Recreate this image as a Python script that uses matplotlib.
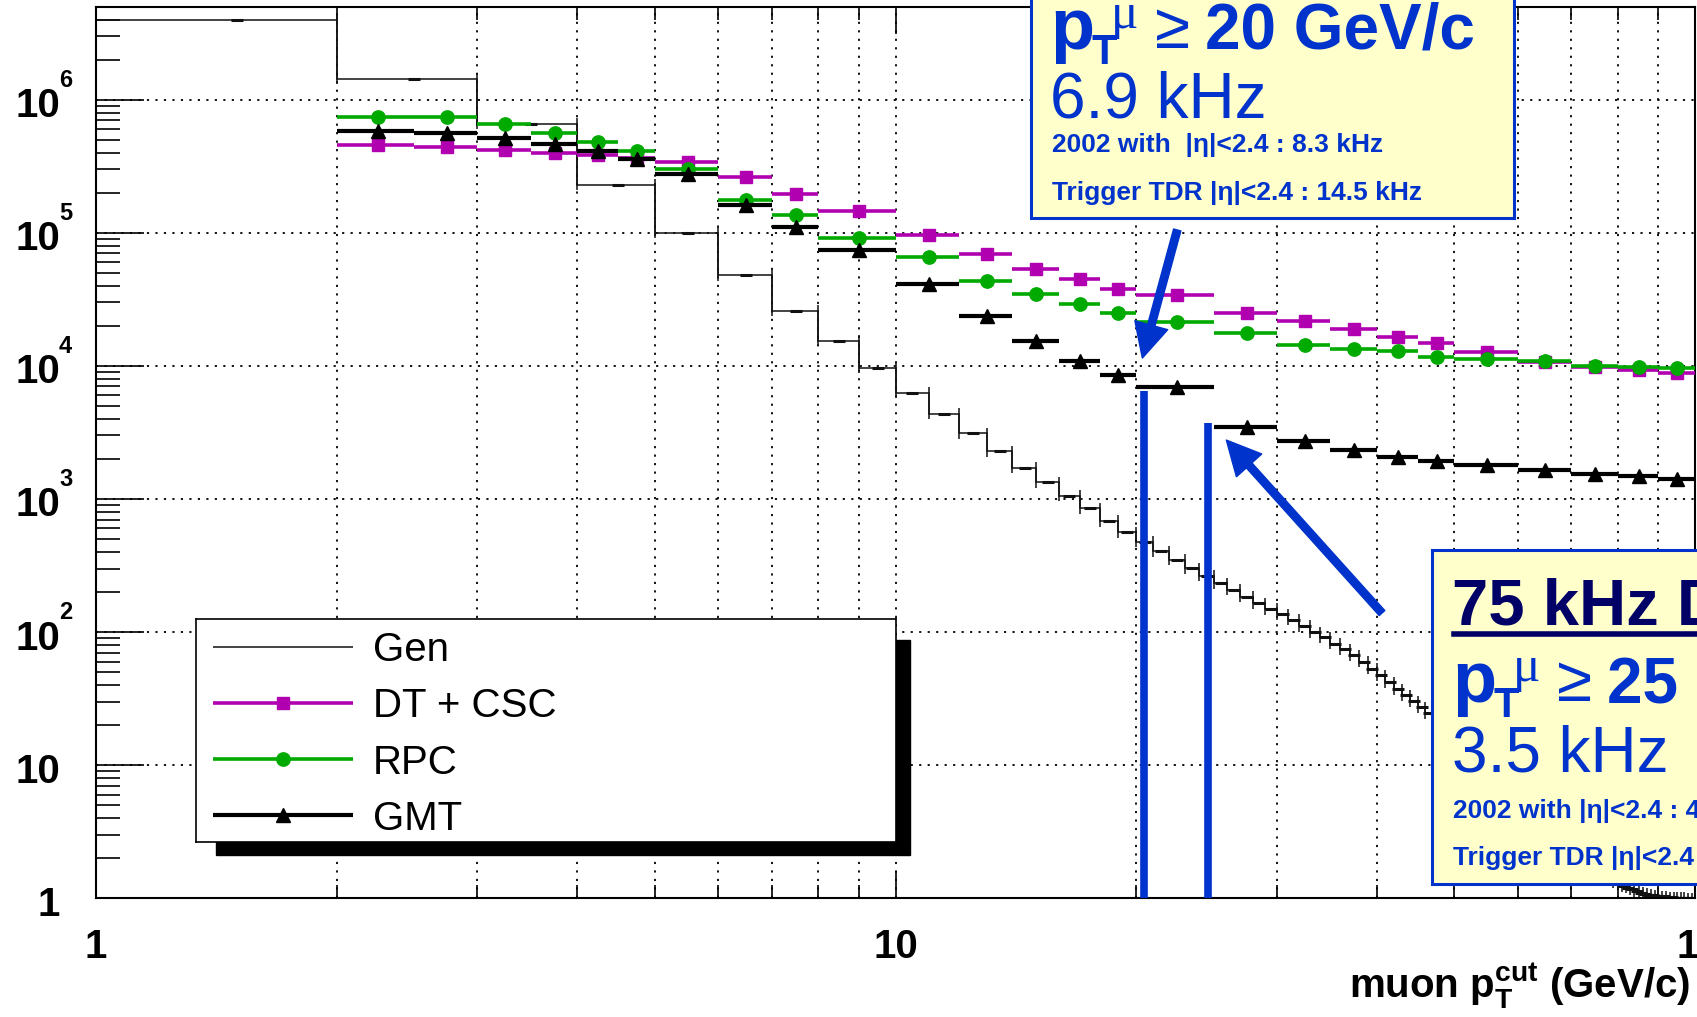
import numpy as np
import matplotlib
matplotlib.use("Agg")
import matplotlib.pyplot as plt
from matplotlib import transforms as mtrans
from matplotlib.patches import Rectangle
from matplotlib.lines import Line2D
from matplotlib.ticker import FixedLocator, LogLocator, NullFormatter

W, H, DPI = 1697, 1017, 100

plt.rcParams["font.family"] = ["Liberation Sans", "DejaVu Sans"]
plt.rcParams["mathtext.fontset"] = "custom"
plt.rcParams["mathtext.rm"] = "Liberation Sans"
plt.rcParams["mathtext.bf"] = "Liberation Sans:bold"
plt.rcParams["mathtext.it"] = "Liberation Sans:italic"
plt.rcParams["mathtext.sf"] = "Liberation Sans"

# ---------------- data ----------------
# generator-level rate above threshold, 1 GeV/c bins from 1 to 100 GeV/c
gen_edges = np.arange(1, 101)
gen_rate = [
    4.0e6, 1.44e6, 6.6e5, 2.3e5, 1.0e5, 4.8e4, 2.6e4, 1.55e4, 9.7e3,
    6.3e3, 4.37e3, 3.11e3, 2.28e3, 1.72e3, 1.33e3, 1.06e3, 850, 683, 561,
    475, 406, 348, 301, 264, 232, 207, 184, 164, 149,
    136, 124, 111, 100, 91, 82, 74, 67, 60, 53,
    47.5, 41.9, 37.3, 33.6, 30.3, 27.2, 24.5, 22.0, 19.8, 17.8,
    16.0, 14.4, 13.0, 11.7, 10.5, 9.5, 8.6, 7.8, 7.0, 6.3,
    5.7, 5.1, 4.6, 4.2, 3.8, 3.4, 3.1, 2.8, 2.55, 2.3,
    2.1, 1.95, 1.8, 1.7, 1.6, 1.52, 1.45, 1.4, 1.35, 1.31,
    1.27, 1.23, 1.2, 1.17, 1.13, 1.1, 1.08, 1.06, 1.05, 1.04,
    1.03, 1.03, 1.02, 1.02, 1.01, 1.01, 1.01, 1.0, 1.0, 1.0,
]

# trigger pT scale bins
trig_edges = [2, 2.5, 3, 3.5, 4, 4.5, 5, 6, 7, 8, 10, 12, 14, 16, 18, 20,
              25, 30, 35, 40, 45, 50, 60, 70, 80, 90, 100]
dtcsc_rate = [4.56e5, 4.43e5, 4.18e5, 3.95e5, 3.83e5, 3.66e5, 3.38e5, 2.62e5,
              1.94e5, 1.45e5, 9.56e4, 6.88e4, 5.31e4, 4.47e4, 3.78e4, 3.40e4,
              2.48e4, 2.18e4, 1.88e4, 1.64e4, 1.49e4, 1.28e4, 1.07e4, 9.85e3,
              9.3e3, 8.8e3]
rpc_rate = [7.36e5, 7.36e5, 6.52e5, 5.61e5, 4.83e5, 4.11e5, 2.99e5, 1.76e5,
            1.36e5, 9.12e4, 6.56e4, 4.36e4, 3.48e4, 2.93e4, 2.48e4, 2.13e4,
            1.76e4, 1.44e4, 1.33e4, 1.29e4, 1.16e4, 1.12e4, 1.09e4, 9.96e3,
            9.75e3, 9.7e3]
gmt_rate = [5.81e5, 5.64e5, 5.17e5, 4.61e5, 4.11e5, 3.6e5, 2.76e5, 1.63e5,
            1.11e5, 7.41e4, 4.12e4, 2.37e4, 1.53e4, 1.09e4, 8.53e3, 6.9e3,
            3.5e3, 2.72e3, 2.32e3, 2.07e3, 1.92e3, 1.79e3, 1.65e3, 1.54e3,
            1.48e3, 1.42e3]

legend_labels = ["Gen", "DT + CSC", "RPC", "GMT"]
x_tick_values = [1, 10, 100]
x_tick_labels = ["1", "10", "100"]
y_decades = [0, 1, 2, 3, 4, 5, 6]

# threshold markers: (pT position, GMT rate reached)
thr20 = (20.43, 6500)
thr25 = (24.57, 3740)

# ---------------- styles ----------------
C_MAG = "#b000b0"
C_GRN = "#00aa00"
C_GEN = "#111111"
C_BLUE = "#0033cc"
C_NAVY = "#000066"
C_YEL = "#ffffcc"


def fx(px):
    return px / W


def fy(py):
    return 1.0 - py / H


fig = plt.figure(figsize=(W / DPI, H / DPI), dpi=DPI)
ax = fig.add_axes([fx(96), fy(898.2), (1695 - 96) / W, (898.2 - 6.7) / H])
ax.set_xscale("log")
ax.set_yscale("log")
ax.set_xlim(1, 100)
ax.set_ylim(1, 5e6)

# generator histogram: steps, step edges slightly overshooting, centre dashes
gen_edges_a = np.asarray(gen_edges, dtype=float)
gen_vals = np.asarray(gen_rate, dtype=float)
gen_centers = 0.5 * (gen_edges_a[:-1] + gen_edges_a[1:])
ax.stairs(gen_vals, gen_edges_a, baseline=None, color=C_GEN, lw=1.1, zorder=2)
hi = np.maximum(gen_vals[:-1], gen_vals[1:]) * 1.1
lo = np.minimum(gen_vals[:-1], gen_vals[1:]) / 1.1
ax.vlines(gen_edges_a[1:-1], lo, hi, color=C_GEN, lw=1.1, zorder=2)
ax.plot(gen_centers, gen_vals, ls="none", marker="_", ms=9, mew=2.2,
        color=C_GEN, zorder=2)

# trigger rates, drawn as bin-wide bars with markers at bin centres
te = np.asarray(trig_edges, dtype=float)
tc = 0.5 * (te[:-1] + te[1:])
th = 0.5 * (te[1:] - te[:-1])
series = [
    (dtcsc_rate, C_MAG, "s", 9.2, 2.6, 3),
    (rpc_rate, C_GRN, "o", 9.6, 2.6, 3.1),
    (gmt_rate, "k", "^", 10.5, 3.0, 3.2),
]
for vals, col, mk, ms, lw, z in series:
    ax.errorbar(tc, vals, xerr=th, fmt=mk, color=col, ms=ms, mec=col,
                mfc=col, elinewidth=lw, capsize=0, zorder=z)

# axes, ticks, grid
ax.xaxis.set_major_locator(FixedLocator(x_tick_values))
ax.xaxis.set_major_formatter(NullFormatter())
ax.xaxis.set_minor_locator(FixedLocator([2, 3, 4, 5, 6, 7, 8, 9,
                                         20, 30, 40, 50, 60, 70, 80, 90]))
ax.xaxis.set_minor_formatter(NullFormatter())
ax.yaxis.set_major_locator(FixedLocator([10.0 ** k for k in y_decades]))
ax.yaxis.set_major_formatter(NullFormatter())
ax.yaxis.set_minor_locator(LogLocator(base=10, subs=range(2, 10), numticks=30))
ax.yaxis.set_minor_formatter(NullFormatter())

ax.tick_params(axis="x", which="major", direction="in", length=19.4, width=1.2,
               top=True, bottom=True)
ax.tick_params(axis="x", which="minor", direction="in", length=9.7, width=1.2,
               top=True, bottom=True)
ax.tick_params(axis="y", which="major", direction="in", length=34.5, width=1.2,
               left=True, right=False)
ax.tick_params(axis="y", which="minor", direction="in", length=17.3, width=1.2,
               left=True, right=False)

grid_kw = dict(color="k", lw=1.3, ls=(0, (1.2, 3.5)))
ax.xaxis.grid(True, which="both", **grid_kw)
ax.yaxis.grid(True, which="major", **grid_kw)
ax.set_axisbelow(True)
for sp in ax.spines.values():
    sp.set_linewidth(1.5)

# x tick labels
xlab_tr = mtrans.blended_transform_factory(ax.transData, ax.transAxes)
for val, txt, dx in zip(x_tick_values, x_tick_labels, [0, 0, 15]):
    ax.text(val, 0, txt, ha="center", va="top", fontsize=29, fontweight="bold",
            clip_on=False,
            transform=xlab_tr + mtrans.ScaledTranslation(dx / DPI, -30 / DPI, fig.dpi_scale_trans))

# y tick labels: "10" with a raised exponent
ylab_tr = mtrans.blended_transform_factory(ax.transAxes, ax.transData)
x_lab = (60 - 96) / (1695 - 96)
x_exp = (59 - 96) / (1695 - 96)
for k in y_decades:
    txt = "1" if k == 0 else "10"
    ax.text(x_lab, 10.0 ** k, txt, ha="right", va="baseline", fontsize=29,
            fontweight="bold", clip_on=False,
            transform=ylab_tr + mtrans.ScaledTranslation(0, -17.5 / DPI, fig.dpi_scale_trans))
    if k >= 2:
        ax.text(x_exp, 10.0 ** k, str(k), ha="left", va="baseline", fontsize=17,
                fontweight="bold", clip_on=False,
                transform=ylab_tr + mtrans.ScaledTranslation(0, 12.8 / DPI, fig.dpi_scale_trans))

# x-axis title
fig.text(fx(1690), fy(998), r"muon $\mathbf{p}_{\mathbf{T}}^{\mathbf{cut}}$ (GeV/c)",
         ha="right", va="baseline", fontsize=29, fontweight="bold")

# threshold lines and arrows
for xv, yv in (thr20, thr25):
    ax.plot([xv, xv], [1, yv], color=C_BLUE, lw=5.5, solid_capstyle="butt", zorder=4)

arrow_style = "simple,head_length=2.45,head_width=2.45,tail_width=0.54"
ax.annotate("", xy=(20.36, 1.145e4), xytext=(22.51, 1.05e5),
            arrowprops=dict(arrowstyle=arrow_style, mutation_scale=10,
                            color=C_BLUE, shrinkA=0, shrinkB=0), zorder=4)
ax.annotate("", xy=(25.93, 2770), xytext=(40.6, 138.9),
            arrowprops=dict(arrowstyle=arrow_style, mutation_scale=10,
                            color=C_BLUE, shrinkA=0, shrinkB=0), zorder=4)

# legend with a solid drop shadow
fig.add_artist(Rectangle((fx(216), fy(855.3)), (909.5 - 216) / W, (855.3 - 640) / H,
                         transform=fig.transFigure, color="k", zorder=2))
lax = fig.add_axes([fx(196), fy(842.3), 700 / W, 223 / H], zorder=3)
lax.set_xlim(196, 896)
lax.set_ylim(842.3, 619.3)
lax.set_xticks([])
lax.set_yticks([])
for sp in lax.spines.values():
    sp.set_linewidth(1.2)
rows = [646.7, 702.7, 759.0, 815.0]
entries = [
    (C_GEN, None, 0, 1.1),
    (C_MAG, "s", 9.2, 2.6),
    (C_GRN, "o", 9.6, 2.6),
    ("k", "^", 10.5, 3.0),
]
for r, lab, (col, mk, ms, lw) in zip(rows, legend_labels, entries):
    lax.plot([213, 353], [r, r], color=col, lw=lw, solid_capstyle="butt")
    if mk:
        lax.plot([283], [r], marker=mk, ms=ms, color=col, mec=col)
    lax.text(373, r + 14.5, lab, fontsize=29, va="baseline", ha="left")


# annotation boxes
def box(x0, y0, x1, y1):
    fig.add_artist(Rectangle((fx(x0), fy(y1)), (x1 - x0) / W, (y1 - y0) / H,
                             transform=fig.transFigure, fc=C_YEL, ec=C_BLUE,
                             lw=2.2, zorder=5))


def ftxt(x, y, s, **kw):
    kw.setdefault("color", C_BLUE)
    fig.text(fx(x), fy(y), s, ha="left", va="baseline", zorder=6, **kw)


def pt_line(x, y, value):
    ftxt(x, y, "p", fontsize=52, fontweight="bold")
    ftxt(x + 41, y + 15, "T", fontsize=30, fontweight="bold")
    ftxt(x + 61, y - 21, "\u03bc", fontsize=37, family=["Liberation Serif", "DejaVu Serif"])
    ftxt(x + 105, y - 1, "\u2265", fontsize=46)
    ftxt(x + 155, y, value, fontsize=46, fontweight="bold")


box(1031, -20, 1514, 218)
pt_line(1050, 49, "20 GeV/c")
ftxt(1050, 117, "6.9 kHz", fontsize=46)
ftxt(1052, 152, "2002 with  |\u03b7|<2.4 : 8.3 kHz", fontsize=19, fontweight="bold")
ftxt(1052, 200, "Trigger TDR |\u03b7|<2.4 : 14.5 kHz", fontsize=19, fontweight="bold")

box(1432, 550, 1760, 884)
ftxt(1452, 625, "75 kHz DAQ", fontsize=47, fontweight="bold", color=C_NAVY)
fig.add_artist(Line2D([fx(1454), fx(1760)], [fy(634.3), fy(634.3)],
                      transform=fig.transFigure, color=C_NAVY, lw=4, zorder=6))
pt_line(1452, 702, "25 GeV/c")
ftxt(1452, 771, "3.5 kHz", fontsize=46)
ftxt(1453, 818, "2002 with |\u03b7|<2.4 : 4", fontsize=19, fontweight="bold")
ftxt(1453, 865, "Trigger TDR |\u03b7|<2.4", fontsize=19, fontweight="bold")

fig.savefig("out.png", dpi=DPI)
